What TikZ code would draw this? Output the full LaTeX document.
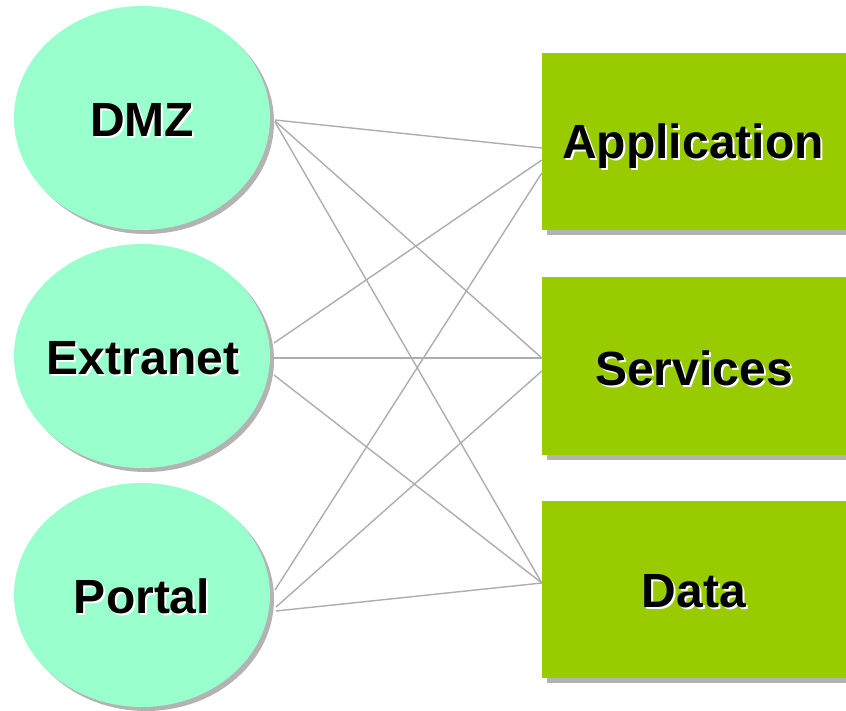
\documentclass[tikz,border=0pt]{standalone}
\usepackage{fontspec}
\setmainfont{Liberation Sans}
\usetikzlibrary{shapes.geometric,calc}

\definecolor{zonefill}{HTML}{99FFCC}
\definecolor{tierfill}{HTML}{99CC00}
\definecolor{dropgray}{HTML}{B3B3B3}
\definecolor{wiregray}{HTML}{ADADAD}

\tikzset{
  zone/.style={ellipse, fill=zonefill, minimum width=256pt, minimum height=224pt, inner sep=0pt},
  zoneshade/.style={ellipse, fill=dropgray, minimum width=256pt, minimum height=224pt, inner sep=0pt},
  tier/.style={rectangle, fill=tierfill, minimum width=308pt, minimum height=177pt, inner sep=0pt},
  tiershade/.style={rectangle, fill=dropgray, minimum width=308pt, minimum height=177pt, inner sep=0pt},
  wire/.style={draw=wiregray, line width=1.4pt},
  caption/.style={anchor=base, inner sep=0pt, font=\bfseries\fontsize{48}{50}\selectfont},
}

% bold caption with a white drop copy behind it
\newcommand{\embossedtext}[3]{%
  \node[caption, text=white] at ($(#2)+(2,2)$) {#3};
  \node[caption, text=black] (#1) at (#2) {#3};
}

\begin{document}
\begin{tikzpicture}[x=1pt, y=-1pt]
  \useasboundingbox (0,0) rectangle (846,711);
  \clip (0,0) rectangle (846,711);

  % drop shadows
  \node[zoneshade] at (146,122) {};
  \node[zoneshade] at (146,360) {};
  \node[zoneshade] at (146,599) {};
  \node[tiershade] at (701,146.5) {};
  \node[tiershade] at (701,371) {};
  \node[tiershade] at (701,594.5) {};

  % zones on the left
  \node[zone] (dmz) at (142,118) {};
  \node[zone] (ext) at (142,356) {};
  \node[zone] (por) at (142,595) {};

  % tiers on the right
  \node[tier] (app) at (696,141.5) {};
  \node[tier] (srv) at (696,366) {};
  \node[tier] (dat) at (696,589.5) {};

  % every zone is wired to every tier
  \draw[wire] ([shift={(133,2)}]dmz.center) -- ([shift={(0,6.5)}]app.west);
  \draw[wire] ([shift={(133,3)}]dmz.center) -- ([shift={(0,-8)}]srv.west);
  \draw[wire] ([shift={(133,4)}]dmz.center) -- ([shift={(0,-6.5)}]dat.west);

  \draw[wire] ([shift={(132,-13)}]ext.center) -- ([shift={(0,18.5)}]app.west);
  \draw[wire] ([shift={(132,2)}]ext.center) -- ([shift={(0,-8)}]srv.west);
  \draw[wire] ([shift={(132,19)}]ext.center) -- ([shift={(0,-6.5)}]dat.west);

  \draw[wire] ([shift={(133,-5)}]por.center) -- ([shift={(0,31.5)}]app.west);
  \draw[wire] ([shift={(134,12)}]por.center) -- ([shift={(0,5)}]srv.west);
  \draw[wire] ([shift={(134,16)}]por.center) -- ([shift={(0,-6.5)}]dat.west);

  % captions
  \embossedtext{dmztxt}{142,137}{DMZ}
  \embossedtext{exttxt}{143,374}{Extranet}
  \embossedtext{portxt}{142,613}{Portal}
  \embossedtext{apptxt}{693,159}{Application}
  \embossedtext{srvtxt}{694,385}{Services}
  \embossedtext{dattxt}{694,607}{Data}
\end{tikzpicture}
\end{document}
